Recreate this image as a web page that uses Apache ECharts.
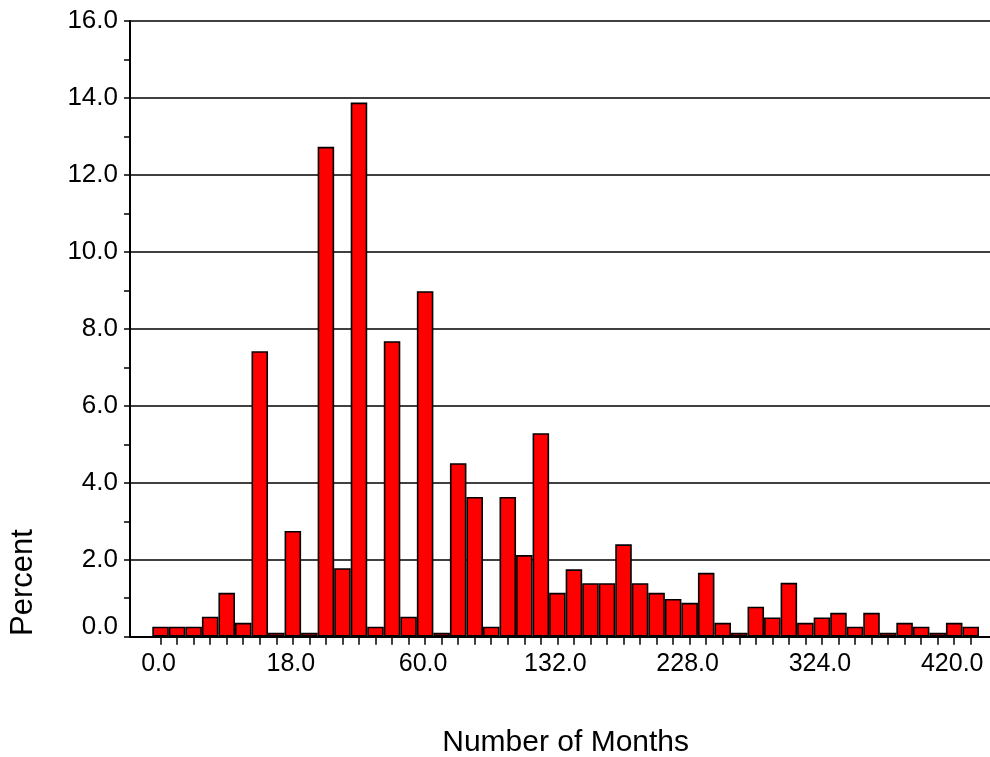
<!DOCTYPE html>
<html>
<head>
<meta charset="utf-8">
<script src="https://cdn.jsdelivr.net/npm/echarts@6/dist/echarts.min.js"></script>
<style>
html,body{margin:0;padding:0;background:#fff;}
#chart{width:990px;height:757px;}
</style>
</head>
<body>
<div id="chart"></div>
<script>
// Histogram bins (category index of each bar)
const bins = [1,2,3,4,5,6,7,8,9,10,11,12,13,14,15,16,17,18,19,20,
  21,22,23,24,25,26,27,28,29,30,31,32,33,34,35,36,37,38,39,40,
  41,42,43,44,45,46,47,48,49,50];
// Percent of observations per bin
const percent = [0.26,0.26,0.26,0.52,1.14,0.36,7.42,0.10,2.75,0.10,
  12.73,1.78,13.88,0.26,7.68,0.52,8.98,0.10,4.51,3.63,
  0.26,3.63,2.12,5.29,1.14,1.75,1.39,1.39,2.40,1.39,
  1.14,0.98,0.88,1.66,0.36,0.10,0.78,0.50,1.40,0.36,
  0.50,0.62,0.26,0.62,0.10,0.36,0.26,0.10,0.36,0.26];
// Labelled ticks on the x axis (every 8th bin)
const xTickLabels = ['0.0','18.0','60.0','132.0','228.0','324.0','420.0'];
const xLabelStep = 8;

const FONT = '"Liberation Sans", Arial, sans-serif';
const chart = echarts.init(document.getElementById('chart'), null, {renderer:'canvas'});
chart.setOption({
  animation: false,
  backgroundColor: '#ffffff',
  textStyle: {fontFamily: FONT},
  grid: [
    {left: 130, right: 0, top: 21, bottom: 120.3, containLabel: false, outerBoundsMode: 'none'},
    {left: 152.3, right: 11, top: 21, bottom: 120.3, containLabel: false, outerBoundsMode: 'none'}
  ],
  xAxis: [
    {gridIndex: 0, type: 'value', min: 0, max: 1,
     axisLine: {show: true, lineStyle: {color: '#000', width: 2}},
     axisTick: {show: false}, axisLabel: {show: false}, splitLine: {show: false}},
    {gridIndex: 1, type: 'category', data: bins, boundaryGap: true,
     axisLine: {show: false},
     axisTick: {show: true, alignWithLabel: true, interval: 0, length: 8,
                lineStyle: {color: '#000', width: 1.5}},
     axisLabel: {interval: xLabelStep - 1, fontSize: 25, color: '#000', fontFamily: FONT, margin: 15,
                 padding: [0, 4, 0, 0],
                 formatter: function (v, i) { return xTickLabels[i / xLabelStep] || ''; }},
     name: 'Number of Months', nameLocation: 'middle', nameGap: 91,
     nameTextStyle: {fontSize: 30, color: '#000', fontFamily: FONT}}
  ],
  yAxis: [
    {gridIndex: 0, type: 'value', min: 0, max: 16, interval: 2,
     axisLine: {show: true, lineStyle: {color: '#000', width: 2}},
     axisTick: {show: true, length: 6, lineStyle: {color: '#000', width: 1.5}},
     minorTick: {show: true, splitNumber: 2, length: 6, lineStyle: {color: '#000', width: 1.5}},
     splitLine: {show: true, lineStyle: {color: '#000', width: 1.5}},
     axisLabel: {fontSize: 26, color: '#000', fontFamily: FONT, margin: 12,
                 formatter: function (v) { return v === 0 ? '{lift|0.0}' : v.toFixed(1); },
                 rich: {lift: {fontSize: 26, color: '#000', fontFamily: FONT, padding: [0, 0, 20, 0]}}}},
    {gridIndex: 1, type: 'value', min: 0, max: 16, show: false}
  ],
  graphic: [
    {type: 'text', x: 23.5, y: 582.5, rotation: Math.PI / 2,
     style: {text: 'Percent', fontSize: 31, fontFamily: FONT, fill: '#000',
             align: 'center', verticalAlign: 'middle'}}
  ],
  series: [
    {type: 'bar', xAxisIndex: 1, yAxisIndex: 1, data: percent,
     barWidth: '100%', barCategoryGap: '0%',
     itemStyle: {color: '#ff0000', borderColor: '#000', borderWidth: 1.6}}
  ]
});
</script>
</body>
</html>
